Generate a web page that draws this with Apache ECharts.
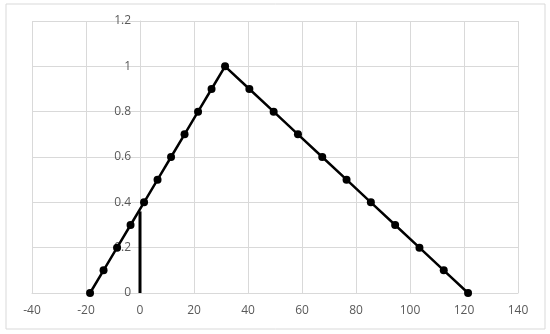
<!DOCTYPE html>
<html>
<head>
<meta charset="utf-8">
<script src="https://cdn.jsdelivr.net/npm/echarts@6/dist/echarts.min.js"></script>
<style>
html, body { margin: 0; padding: 0; background: #fff; }
#main { width: 550px; height: 334px; }
</style>
</head>
<body>
<div id="main"></div>
<script>
// values
var xs = [-18.5, -13.5, -8.5, -3.5, 1.5, 6.5, 11.5, 16.5, 21.5, 26.5, 31.5,
          40.5, 49.5, 58.5, 67.5, 76.5, 85.5, 94.5, 103.5, 112.5, 121.5];
var ys = [0, 0.1, 0.2, 0.3, 0.4, 0.5, 0.6, 0.7, 0.8, 0.9, 1,
          0.9, 0.8, 0.7, 0.6, 0.5, 0.4, 0.3, 0.2, 0.1, 0];
var markX = [0, 0];
var markY = [0, 0.36];

var myChart = echarts.init(document.getElementById('main'));

var option = {
    animation: false,
    textStyle: { fontFamily: 'Open Sans' },
    graphic: [{
        type: 'rect',
        shape: { x: 6, y: 4, width: 539, height: 325 },
        style: { fill: null, stroke: '#d9d9d9', lineWidth: 1 }
    }],
    grid: { left: 32, right: 32, top: 21, bottom: 41 },
    xAxis: {
        type: 'value',
        min: -40, max: 140, interval: 20,
        axisLine: { show: true, onZero: true, lineStyle: { color: '#d9d9d9' } },
        axisTick: { show: false },
        axisLabel: { color: '#595959', fontSize: 12, margin: 12 },
        splitLine: { show: true, lineStyle: { color: '#d9d9d9' } }
    },
    yAxis: {
        type: 'value',
        min: 0, max: 1.2, interval: 0.2,
        offset: 0,
        axisLine: { show: true, onZero: false, lineStyle: { color: '#d9d9d9' } },
        axisTick: { show: false },
        axisLabel: {
            color: '#595959', fontSize: 12, margin: 9,
            formatter: function (v) { return String(+v.toFixed(1)); }
        },
        splitLine: { show: true, lineStyle: { color: '#d9d9d9' } }
    },
    series: [{
        type: 'line',
        data: xs.map(function (x, i) { return [x, ys[i]]; }),
        symbol: 'circle',
        symbolSize: 8,
        lineStyle: { color: '#000', width: 2.5 },
        itemStyle: { color: '#000' },
        z: 3
    }, {
        type: 'line',
        data: markX.map(function (x, i) { return [x, markY[i]]; }),
        symbol: 'none',
        clip: false,
        lineStyle: { color: '#000', width: 3 },
        z: 2
    }]
};

myChart.setOption(option);

// y axis sits at x = 0, so shift it there
var zeroPx = myChart.convertToPixel({ xAxisIndex: 0 }, 0);
myChart.setOption({ yAxis: { offset: -(zeroPx - 32) } });
</script>
</body>
</html>
